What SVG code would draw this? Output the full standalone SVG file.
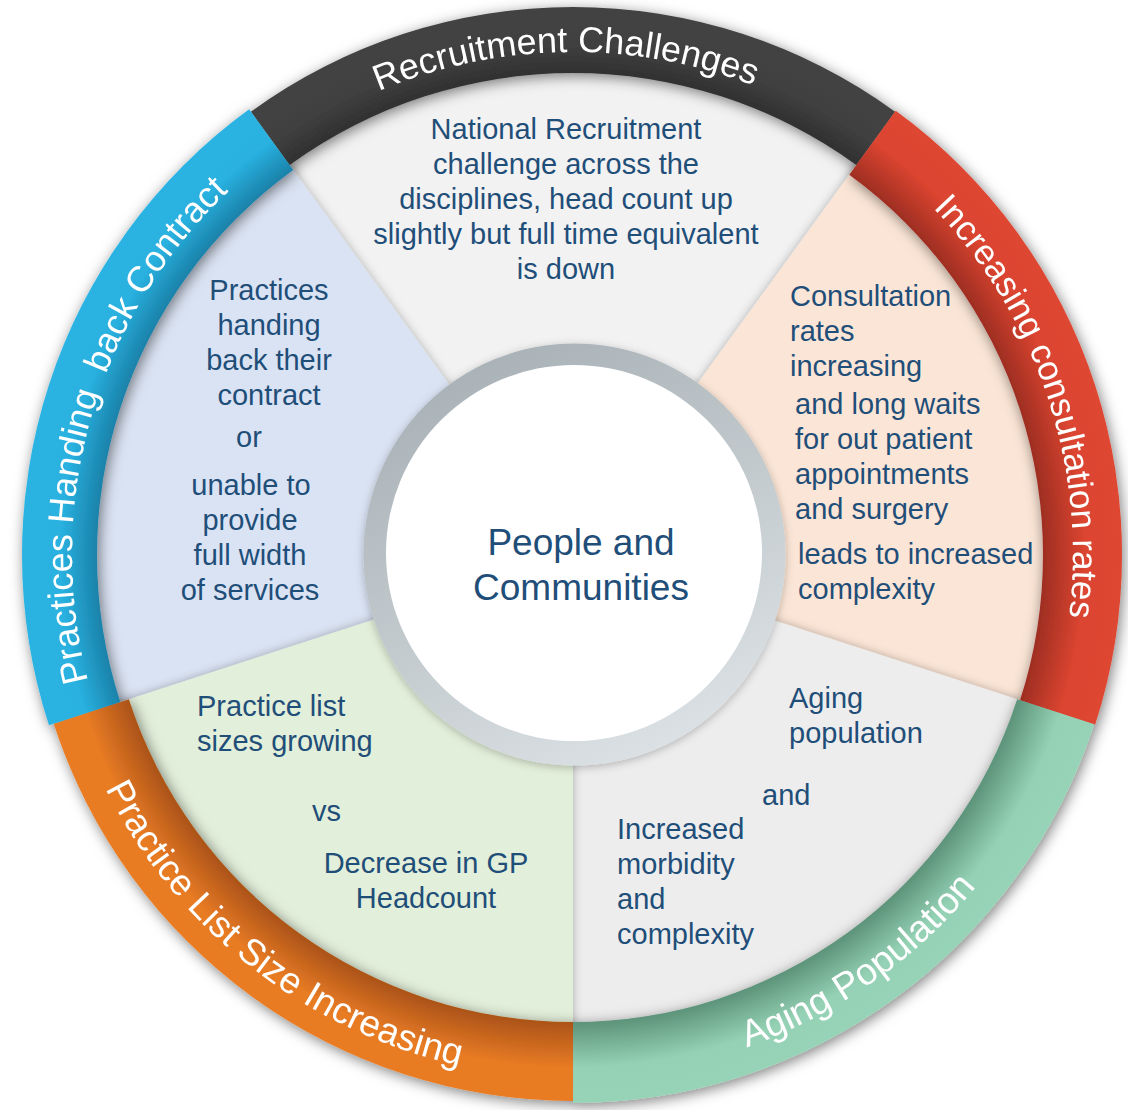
<svg xmlns="http://www.w3.org/2000/svg" width="1128" height="1110" viewBox="0 0 1128 1110">
<style>
.t{font-family:"Liberation Sans",Arial,sans-serif;font-size:29px;fill:#1F4E79}
.tc{text-anchor:middle}
.lbl{font-family:"Liberation Sans",Arial,sans-serif;fill:#FFFFFF}
.ctr{font-family:"Liberation Sans",Arial,sans-serif;font-size:37px;fill:#1F4E79;text-anchor:middle}
</style>
<defs>
<filter id="ringShadow" x="-10%" y="-10%" width="120%" height="120%">
<feDropShadow dx="2" dy="3" stdDeviation="7" flood-color="#000" flood-opacity="0.5"/>
</filter>
<filter id="wedgeShadow" x="-10%" y="-10%" width="120%" height="120%">
<feDropShadow dx="0" dy="0" stdDeviation="5" flood-color="#000" flood-opacity="0.28"/>
</filter>
<filter id="hubShadow" x="-10%" y="-10%" width="120%" height="120%">
<feDropShadow dx="0" dy="2" stdDeviation="4" flood-color="#000" flood-opacity="0.25"/>
</filter>
<radialGradient id="gBlack" gradientUnits="userSpaceOnUse" cx="573" cy="555" r="551">
<stop offset="0.86" stop-color="#2C2C2C"/><stop offset="0.93" stop-color="#414141"/><stop offset="1" stop-color="#434343"/>
</radialGradient>
<radialGradient id="gRed" gradientUnits="userSpaceOnUse" cx="573" cy="555" r="551">
<stop offset="0.85" stop-color="#9C2D22"/><stop offset="0.93" stop-color="#DC4530"/><stop offset="1" stop-color="#DE4631"/>
</radialGradient>
<radialGradient id="gGreen" gradientUnits="userSpaceOnUse" cx="573" cy="555" r="551">
<stop offset="0.85" stop-color="#5E957B"/><stop offset="0.93" stop-color="#95D2B5"/><stop offset="1" stop-color="#97D3B6"/>
</radialGradient>
<radialGradient id="gOrange" gradientUnits="userSpaceOnUse" cx="573" cy="555" r="551">
<stop offset="0.85" stop-color="#AD5419"/><stop offset="0.93" stop-color="#E87B24"/><stop offset="1" stop-color="#E97C24"/>
</radialGradient>
<radialGradient id="gBlue" gradientUnits="userSpaceOnUse" cx="573" cy="555" r="551">
<stop offset="0.85" stop-color="#17789E"/><stop offset="0.93" stop-color="#29B1E0"/><stop offset="1" stop-color="#2AB3E2"/>
</radialGradient>
<linearGradient id="gHub" x1="0.2" y1="0" x2="0.7" y2="1">
<stop offset="0" stop-color="#A6AFB4"/><stop offset="1" stop-color="#DCE2E5"/>
</linearGradient>
<path id="pTop" d="M137.39,303.5 A503,503 0 0 1 1008.61,303.5"/>
<path id="pRight" d="M668.40,64.19 A500,500 0 0 1 950.36,883.03"/>
<path id="pBR" d="M352.39,1028.09 A522,522 0 0 0 1093.01,509.50"/>
<path id="pBL" d="M56.08,482.35 A522,522 0 0 0 768.54,1039.99"/>
<path id="pLeft" d="M212.61,903.02 A501,501 0 0 1 451.80,68.88"/>
</defs>
<rect width="1128" height="1110" fill="#FFFFFF"/>

<g id="wedges">
<g id="node-recruitment">
<path d="M573,555 L282.05,154.54 A495,495 0 0 1 863.95,154.54 Z" fill="#F2F2F2" filter="url(#wedgeShadow)"/>
<text class="t tc" x="566" y="139">National Recruitment</text>
<text class="t tc" x="566" y="174">challenge across the</text>
<text class="t tc" x="566" y="209">disciplines, head count up</text>
<text class="t tc" x="566" y="244">slightly but full time equivalent</text>
<text class="t tc" x="566" y="279">is down</text>
</g>
<g id="node-consultation">
<path d="M573,555 L863.95,154.54 A495,495 0 0 1 1043.77,707.96 Z" fill="#FBE5D6" filter="url(#wedgeShadow)"/>
<text class="t" x="790" y="306">Consultation</text>
<text class="t" x="790" y="341">rates</text>
<text class="t" x="790" y="376">increasing</text>
<text class="t" x="795" y="414">and long waits</text>
<text class="t" x="795" y="449">for out patient</text>
<text class="t" x="795" y="484">appointments</text>
<text class="t" x="795" y="519">and surgery</text>
<text class="t" x="798" y="564">leads to increased</text>
<text class="t" x="798" y="599">complexity</text>
</g>
<g id="node-contract">
<path d="M573,555 L102.23,707.96 A495,495 0 0 1 282.05,154.54 Z" fill="#DAE3F3" filter="url(#wedgeShadow)"/>
<text class="t tc" x="269" y="300">Practices</text>
<text class="t tc" x="269" y="335">handing</text>
<text class="t tc" x="269" y="370">back their</text>
<text class="t tc" x="269" y="405">contract</text>
<text class="t tc" x="249" y="447">or</text>
<text class="t tc" x="251" y="495">unable to</text>
<text class="t tc" x="250" y="530">provide</text>
<text class="t tc" x="250" y="565">full width</text>
<text class="t tc" x="250" y="600">of services</text>
</g>
<g id="node-aging">
<path d="M573,555 L1043.77,707.96 A495,495 0 0 1 573,1050 Z" fill="#EDEDED" filter="url(#wedgeShadow)"/>
<text class="t" x="789" y="708">Aging</text>
<text class="t" x="789" y="743">population</text>
<text class="t" x="762" y="805">and</text>
<text class="t" x="617" y="839">Increased</text>
<text class="t" x="617" y="874">morbidity</text>
<text class="t" x="617" y="909">and</text>
<text class="t" x="617" y="944">complexity</text>
</g>
<g id="node-listsize">
<path d="M573,555 L573,1050 A495,495 0 0 1 102.23,707.96 Z" fill="#E2EFDA" filter="url(#wedgeShadow)"/>
<text class="t" x="197" y="716">Practice list</text>
<text class="t" x="197" y="751">sizes growing</text>
<text class="t" x="312" y="821">vs</text>
<text class="t tc" x="426" y="873">Decrease in GP</text>
<text class="t tc" x="426" y="908">Headcount</text>
</g>
</g>

<g id="ring" filter="url(#ringShadow)">
<g id="band-recruitment">
<path d="M250.89,111.66 A548,548 0 0 1 895.11,111.66 L856.31,165.05 A482,482 0 0 0 289.69,165.05 Z" fill="url(#gBlack)"/>
<text class="lbl" font-size="36"><textPath href="#pTop" startOffset="49.3%" text-anchor="middle">Recruitment Challenges</textPath></text>
</g>
<g id="band-consultation">
<path d="M895.69,110.85 A549,549 0 0 1 1095.13,724.65 L1020.0,700.24 A470,470 0 0 0 849.26,174.76 Z" fill="url(#gRed)"/>
<text class="lbl" font-size="35"><textPath href="#pRight" startOffset="50.5%" text-anchor="middle">Increasing consultation rates</textPath></text>
</g>
<g id="band-aging">
<path d="M1094.18,724.34 A548,548 0 0 1 573,1103 L573,1022 A467,467 0 0 0 1017.14,699.31 Z" fill="url(#gGreen)"/>
<text class="lbl" font-size="37.5"><textPath href="#pBR" startOffset="50%" text-anchor="middle">Aging Population</textPath></text>
</g>
<g id="band-listsize">
<path d="M573,1101 A546,546 0 0 1 53.72,723.72 L128.86,699.31 A467,467 0 0 0 573,1022 Z" fill="url(#gOrange)"/>
<text class="lbl" font-size="37"><textPath href="#pBL" startOffset="50%" text-anchor="middle">Practice List Size Increasing</textPath></text>
</g>
<g id="band-contract">
<path d="M48.97,725.27 A551,551 0 0 1 249.13,109.23 L293.21,169.91 A476,476 0 0 0 120.30,702.09 Z" fill="url(#gBlue)"/>
<text class="lbl" font-size="36" xml:space="preserve"><textPath href="#pLeft" startOffset="50%" text-anchor="middle">Practices Handing  back Contract</textPath></text>
</g>
</g>

<g id="node-center">
<circle cx="574.5" cy="554.5" r="211" fill="url(#gHub)" filter="url(#hubShadow)"/>
<circle cx="574" cy="553" r="188" fill="#FFFFFF"/>
<text class="ctr" x="581" y="555">People and</text>
<text class="ctr" x="581" y="600">Communities</text>
</g>

<g id="connectors"/>
</svg>
